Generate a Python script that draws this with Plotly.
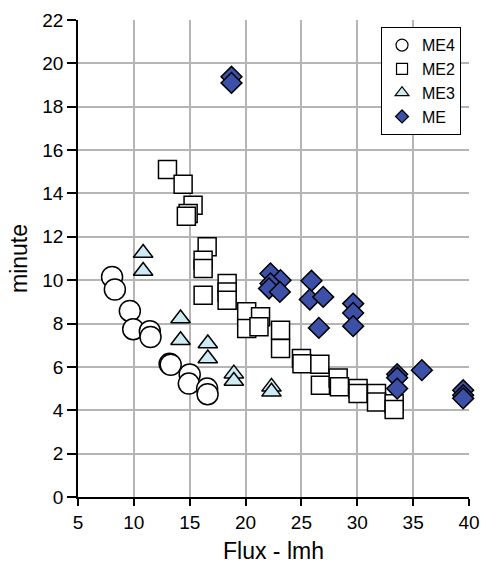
import plotly.graph_objects as go

me4_x = [8.05, 8.3, 9.64, 9.94, 11.43, 11.49, 13.2, 13.3, 15.0, 14.92, 16.56, 16.6]
me4_y = [10.15, 9.57, 8.58, 7.74, 7.65, 7.38, 6.14, 6.1, 5.65, 5.23, 5.0, 4.74]

me2_x = [13.01, 14.41, 15.3, 14.86, 14.7, 16.56, 16.2, 16.2, 16.2, 18.35, 18.35, 18.35,
         20.1, 20.1, 21.34, 21.2, 23.13, 23.13, 25.0, 25.05, 26.65, 26.7, 28.29, 28.4,
         30.07, 30.07, 31.72, 31.72, 33.3, 33.3]
me2_y = [15.11, 14.43, 13.46, 13.08, 12.95, 11.54, 10.92, 10.54, 9.31, 9.85, 9.46, 9.08,
         8.54, 7.77, 8.31, 7.85, 7.69, 6.85, 6.39, 6.15, 6.12, 5.15, 5.49, 5.08,
         5.0, 4.77, 4.77, 4.38, 4.3, 4.03]

me3_x = [10.83, 10.83, 14.18, 14.18, 16.62, 16.62, 18.95, 18.95, 22.32, 22.32]
me3_y = [11.25, 10.42, 8.23, 7.23, 7.08, 6.39, 5.69, 5.35, 5.08, 4.85]

me_x = [18.74, 18.74, 22.23, 23.13, 22.23, 22.1, 23.07, 25.9, 25.75, 26.95, 26.56,
        29.63, 29.63, 29.63, 33.57, 33.57, 33.57, 35.78, 39.48, 39.48, 39.48]
me_y = [19.38, 19.1, 10.31, 10.0, 9.85, 9.62, 9.46, 9.97, 9.11, 9.23, 7.8,
        8.92, 8.49, 7.88, 5.66, 5.5, 5.0, 5.85, 4.92, 4.69, 4.55]

series_names = ["ME4", "ME2", "ME3", "ME"]
x_ticks = [5, 10, 15, 20, 25, 30, 35, 40]
y_ticks = list(range(0, 23, 2))

FONT = "Liberation Sans, Arial, sans-serif"
line = dict(color="black", width=1.5)

styles = [
    dict(symbol="circle", size=21, color="white"),
    dict(symbol="square", size=18, color="white"),
    dict(symbol="triangle-up", size=17, color="#cdebf2"),
    dict(symbol="diamond", size=16, color="#3c50a8"),
]
legend_sizes = [12, 11, 12, 10]
data = [(me4_x, me4_y), (me2_x, me2_y), (me3_x, me3_y), (me_x, me_y)]

fig = go.Figure()
for (xs, ys), name, st in zip(data, series_names, styles):
    fig.add_trace(go.Scatter(x=xs, y=ys, mode="markers", name=name, cliponaxis=False,
                             showlegend=False,
                             marker=dict(symbol=st["symbol"], size=st["size"],
                                         color=st["color"], line=line)))
# legend-only entries with small symbols
for name, st, ls in zip(series_names, styles, legend_sizes):
    fig.add_trace(go.Scatter(x=[None], y=[None], mode="markers", name=name,
                             marker=dict(symbol=st["symbol"], size=ls,
                                         color=st["color"], line=dict(color="black", width=1.2))))

fig.update_layout(
    template="none",
    width=482, height=564,
    margin=dict(l=78, r=13, t=20, b=67),
    paper_bgcolor="white", plot_bgcolor="white",
    font=dict(family=FONT, size=19, color="black"),
    showlegend=True,
    legend=dict(x=0.775, y=0.985, xanchor="left", yanchor="top",
                bgcolor="white", bordercolor="black", borderwidth=1,
                font=dict(size=16), itemwidth=30, tracegroupgap=0),
)
fig.update_xaxes(range=[5, 40], tickvals=x_ticks, ticks="outside", ticklen=7,
                 tickcolor="black", tickwidth=1.5, automargin=False,
                 showline=True, linecolor="black", linewidth=1.5,
                 showgrid=True, gridcolor="#b5b5b5", gridwidth=1.5, zeroline=False,
                 title=dict(text="Flux - lmh", standoff=14))
fig.update_yaxes(range=[0, 22], tickvals=y_ticks, ticks="outside", ticklen=9,
                 tickcolor="black", tickwidth=1.5, automargin=False,
                 showline=True, linecolor="black", linewidth=1.5,
                 showgrid=True, gridcolor="#b5b5b5", gridwidth=1.5, zeroline=False,
                 title=dict(text="minute", standoff=8))

fig.write_html("out.html")
